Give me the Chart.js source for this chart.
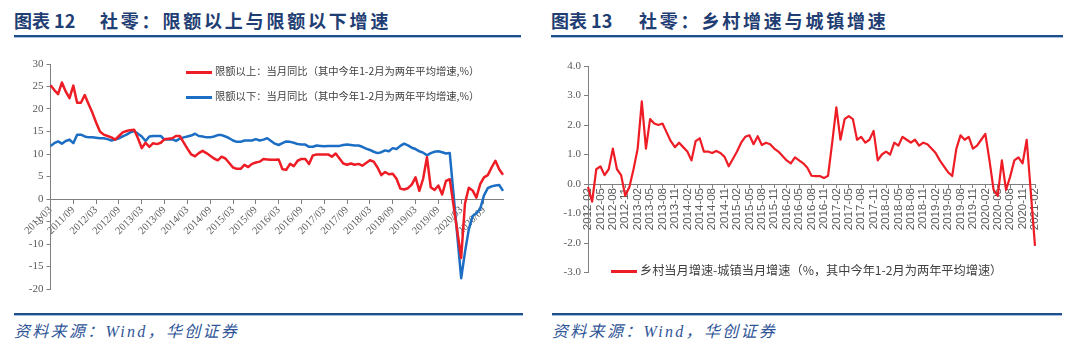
<!DOCTYPE html>
<html>
<head>
<meta charset="utf-8">
<script src="https://cdn.jsdelivr.net/npm/chart.js@4.4.0/dist/chart.umd.min.js"></script>
<style>
body{margin:0;background:#fff;width:1080px;height:359px;position:relative;overflow:hidden;font-family:"Noto Sans CJK SC",sans-serif;}
.title{position:absolute;top:7px;font-size:18px;font-weight:bold;color:#1F3E73;white-space:nowrap;line-height:26px;}
.title.sp{letter-spacing:2.8px;}
.rule{position:absolute;height:2px;background:#1F4E8C;border-bottom:1px solid #A9BEDF;}
.src{position:absolute;top:318px;font-style:italic;font-size:16px;color:#2F5597;white-space:nowrap;font-family:"Liberation Serif","Noto Sans CJK SC",serif;letter-spacing:2.3px;}
canvas{position:absolute;}
.leg{position:absolute;font-size:10.3px;color:#404040;white-space:nowrap;line-height:14px;}
.leg i{display:inline-block;width:26px;height:3px;vertical-align:middle;margin-right:3px;}
</style>
</head>
<body>
<div class="title" style="left:14px">图表 12</div>
<div class="title sp" style="left:100px">社零：限额以上与限额以下增速</div>
<div class="title" style="left:551px">图表 13</div>
<div class="title sp" style="left:639px">社零：乡村增速与城镇增速</div>
<div class="rule" style="left:14px;top:35px;width:507px"></div>
<div class="rule" style="left:551px;top:35px;width:512px"></div>
<div class="rule" style="left:14px;top:313px;width:509px"></div>
<div class="rule" style="left:552px;top:313px;width:510px"></div>
<div class="src" style="left:14px">资料来源：Wind，华创证券</div>
<div class="src" style="left:552px">资料来源：Wind，华创证券</div>

<canvas id="left" width="520" height="250" style="left:0;top:50px"></canvas>
<canvas id="right" width="540" height="250" style="left:540px;top:50px"></canvas>

<div class="leg" style="left:186px;top:64px"><i style="background:#EE1C25"></i>限额以上：当月同比（其中今年1-2月为两年平均增速,%）</div>
<div class="leg" style="left:186px;top:89px"><i style="background:#1C6EC4"></i>限额以下：当月同比（其中今年1-2月为两年平均增速,%）</div>
<div class="leg" style="left:611px;top:262px;font-size:12.2px;line-height:16px"><i style="background:#EE1C25;width:26px"></i>乡村当月增速-城镇当月增速（%，其中今年1-2月为两年平均增速）</div>

<script>
// months 2011/03 .. 2021/02
const leftLabels = [];
for (let y = 2011; y <= 2021; y++) {
  for (let m = 1; m <= 12; m++) {
    if ((y === 2011 && m < 3) || (y === 2021 && m > 2)) continue;
    leftLabels.push(y + '/' + String(m).padStart(2, '0'));
  }
}
// months 2012-02 .. 2021-02
const rightLabels = [];
for (let y = 2012; y <= 2021; y++) {
  for (let m = 1; m <= 12; m++) {
    if ((y === 2012 && m < 2) || (y === 2021 && m > 2)) continue;
    rightLabels.push(y + '-' + String(m).padStart(2, '0'));
  }
}

const aboveLimit = [
  25.3, 24.2, 23.3, 25.9, 23.9, 22.4, 25.2, 21.4, 21.4, 23.1,
  21.1, 19.2, 17.0, 15.0, 14.3, 14.0, 13.7, 13.2, 14.0, 14.8,
  15.1, 15.3, 15.4, 13.5, 11.3, 12.5, 11.6, 12.4, 12.2, 12.5,
  13.3, 13.4, 13.5, 14.0, 14.0, 12.6, 11.2, 9.9, 9.5, 10.2,
  10.7, 10.2, 9.6, 9.0, 8.6, 9.4, 9.0, 8.0, 7.0, 6.7,
  6.7, 7.6, 7.1, 7.8, 8.1, 8.3, 8.9, 8.8, 8.7, 8.7,
  8.8, 6.6, 6.5, 7.8, 7.3, 8.5, 8.9, 8.9, 7.8, 9.7,
  9.9, 9.9, 9.9, 9.9, 9.4, 10.1, 9.0, 7.9, 7.6, 7.9,
  7.6, 7.8, 7.4, 8.0, 8.6, 8.3, 7.0, 5.3, 6.0, 5.5,
  5.6, 4.5, 2.3, 2.1, 2.4, 3.2, 4.8, 1.8, 4.5, 9.3,
  2.6, 2.0, 3.0, 1.0, 4.0, 4.4, null, null, -13.1, -1.0,
  2.5, 1.9, 0.3, 3.3, 4.8, 5.3, 7.0, 8.5, 6.6, 5.4
];
const belowLimit = [
  11.8, 12.4, 12.8, 12.3, 12.9, 13.2, 12.4, 14.3, 14.3, 13.9,
  13.7, 13.7, 13.6, 13.5, 13.5, 13.3, 13.0, 13.2, 13.5, 13.9,
  14.3, 14.8, 15.1, 14.5, 13.9, 12.9, 13.9, 14.0, 14.0, 14.0,
  13.2, 13.2, 13.3, 12.9, 13.4, 13.7, 13.9, 14.1, 14.5, 14.0,
  13.9, 13.7, 13.7, 13.9, 14.2, 14.2, 13.9, 13.5, 13.0, 12.7,
  12.7, 13.0, 13.0, 13.0, 13.3, 13.0, 13.2, 13.5, 12.9, 12.3,
  12.0, 12.4, 12.8, 12.7, 12.5, 12.2, 12.1, 12.1, 11.6, 11.6,
  11.9, 11.8, 11.7, 11.8, 11.8, 11.8, 11.8, 12.0, 12.1, 12.0,
  11.9, 11.9, 11.6, 11.2, 10.9, 10.5, 10.2, 10.4, 10.8, 10.6,
  11.3, 11.1, 11.8, 12.3, 11.9, 11.4, 11.1, 10.6, 10.3, 9.7,
  10.2, 10.5, 10.6, 10.4, 10.1, 10.2, null, null, -17.6, -11.8,
  -6.8, -3.8, -3.2, -2.2, 0.8, 2.4, 2.8, 3.0, 3.1, 1.8
];
const ruralMinusUrban = [
  -0.1, -0.6, 0.5, 0.6, 0.3, 0.5, 1.2, 0.5, 0.3, -0.4,
  -0.1, 0.5, 1.2, 2.8, 1.2, 2.2, 2.05, 2.0, 2.05, 1.75,
  1.45, 1.25, 1.4, 1.25, 1.1, 0.8, 1.45, 1.55, 1.1, 1.1,
  1.05, 1.12, 1.05, 0.92, 0.6, 0.85, 1.1, 1.4, 1.6, 1.65,
  1.35, 1.62, 1.32, 1.4, 1.35, 1.2, 1.1, 0.95, 0.8, 0.7,
  0.9, 0.8, 0.7, 0.55, 0.28, 0.27, 0.27, 0.2, 0.28, 1.4,
  2.6, 1.5, 2.2, 2.3, 2.2, 1.5, 1.6, 1.4, 1.5, 1.8,
  0.8, 1.0, 1.1, 1.0, 1.4, 1.3, 1.6, 1.5, 1.4, 1.5,
  1.3, 1.4, 1.35, 1.2, 1.05, 0.8, 0.6, 0.4, 0.27, 1.2,
  1.65, 1.5, 1.6, 1.2, 1.3, 1.5, 1.7, 0.8, -0.2, -0.4,
  0.8, -0.2, 0.25, 0.8, 0.9, 0.7, 1.5, null, -2.1
];

const axisGrey = '#808080';
const tickGrey = '#595959';

new Chart(document.getElementById('left'), {
  type: 'line',
  data: {
    labels: leftLabels,
    datasets: [{
      label: '限额以上：当月同比（其中今年1-2月为两年平均增速,%）',
      data: aboveLimit,
      borderColor: '#EE1C25',
      borderWidth: 2.5,
      borderJoinStyle: 'round',
      pointRadius: 0,
      tension: 0,
      spanGaps: true
    }, {
      label: '限额以下：当月同比（其中今年1-2月为两年平均增速,%）',
      data: belowLimit,
      borderColor: '#1C6EC4',
      borderWidth: 2.5,
      borderJoinStyle: 'round',
      pointRadius: 0,
      tension: 0,
      spanGaps: true
    }]
  },
  options: {
    responsive: false,
    animation: false,
    devicePixelRatio: 1,
    layout: { padding: { left: 10.5, right: 17, top: 14, bottom: 11 } },
    plugins: { legend: { display: false }, tooltip: { enabled: false } },
    scales: {
      x: {
        position: { y: 0 },
        grid: { drawOnChartArea: false, tickLength: 4, color: axisGrey },
        border: { color: axisGrey },
        ticks: {
          autoSkip: false, maxRotation: 45, minRotation: 45, padding: 1,
          color: tickGrey, font: { family: 'Liberation Serif', size: 10.5 },
          callback: (v, i) => i % 6 === 0 ? leftLabels[i] : null
        }
      },
      y: {
        min: -20, max: 30,
        afterFit: s => { s.width = 40; },
        grid: { drawOnChartArea: false, tickLength: 4, color: axisGrey },
        border: { color: axisGrey },
        ticks: { stepSize: 5, padding: 3, color: tickGrey, font: { family: 'Liberation Serif', size: 11 } }
      }
    }
  }
});

new Chart(document.getElementById('right'), {
  type: 'line',
  data: {
    labels: rightLabels,
    datasets: [{
      label: '乡村当月增速-城镇当月增速（%，其中今年1-2月为两年平均增速）',
      data: ruralMinusUrban,
      borderColor: '#EE1C25',
      borderWidth: 2.2,
      borderJoinStyle: 'round',
      pointRadius: 0,
      tension: 0,
      spanGaps: true
    }]
  },
  options: {
    responsive: false,
    animation: false,
    devicePixelRatio: 1,
    layout: { padding: { left: 8, right: 45, top: 16, bottom: 27.5 } },
    plugins: { legend: { display: false }, tooltip: { enabled: false } },
    scales: {
      x: {
        position: { y: 0 },
        grid: { drawOnChartArea: false, tickLength: 3, color: axisGrey },
        border: { color: axisGrey },
        ticks: {
          autoSkip: false, maxRotation: 90, minRotation: 90, padding: 1,
          color: tickGrey, font: { family: 'Liberation Sans', size: 11.5 },
          callback: (v, i) => i % 3 === 0 ? rightLabels[i] : null
        }
      },
      y: {
        min: -3, max: 4,
        afterFit: s => { s.width = 40; },
        grid: { drawOnChartArea: false, tickLength: 4, color: axisGrey },
        border: { color: axisGrey },
        ticks: {
          stepSize: 1, padding: 3, color: tickGrey, font: { family: 'Liberation Serif', size: 11 },
          callback: v => v.toFixed(1)
        }
      }
    }
  }
});
</script>
</body>
</html>
